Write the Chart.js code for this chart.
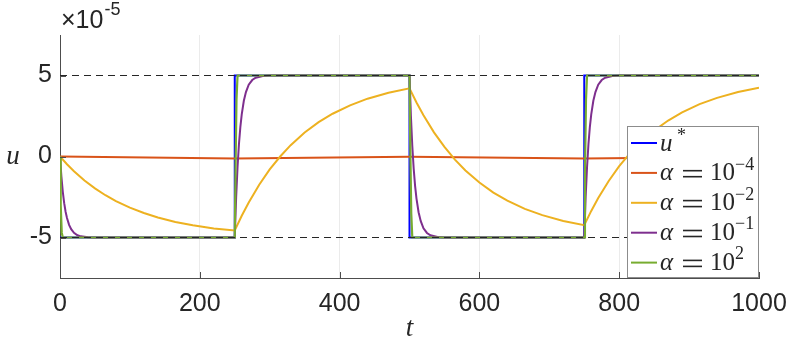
<!DOCTYPE html>
<html>
<head>
<meta charset="utf-8">
<script src="https://cdn.jsdelivr.net/npm/chart.js@4.4.1/dist/chart.umd.min.js"></script>
<style>
  html, body { margin: 0; padding: 0; background: #fff; }
  canvas { display: block; }
</style>
</head>
<body>
<canvas id="chart" width="789" height="345"></canvas>
<script>
// values in units of 1e-5
const xTicks = [0, 200, 400, 600, 800, 1000];
const yTicks = [-5, 0, 5];

const tStar = [0, 250, 250, 500, 500, 750, 750, 1000];
const uStar = [-5, -5, 5, 5, -5, -5, 5, 5];

const tA4 = [0, 250, 500, 750, 1000];
const uA4 = [0, -0.12, -0.01, -0.13, -0.02];

const tA2 = [0, 10, 20, 35, 50, 65, 80, 100, 120, 140, 165, 190, 220,
  250, 260, 270, 285, 300, 315, 330, 350, 370, 390, 415, 440, 470,
  500, 510, 520, 535, 550, 565, 580, 600, 620, 640, 665, 690, 720,
  750, 760, 770, 785, 800, 815, 830, 850, 870, 890, 915, 940, 970, 1000];
const uA2 = [0, -0.48, -0.91, -1.48, -1.97, -2.39, -2.75, -3.16, -3.49, -3.77, -4.04, -4.25, -4.45,
  -4.57, -3.66, -2.84, -1.74, -0.80, 0.00, 0.70, 1.48, 2.12, 2.64, 3.16, 3.57, 3.94,
  4.21, 3.33, 2.54, 1.49, 0.59, -0.19, -0.86, -1.61, -2.23, -2.73, -3.23, -3.62, -3.98,
  -4.24, -3.36, -2.56, -1.51, -0.60, 0.18, 0.85, 1.60, 2.22, 2.72, 3.23, 3.62, 3.98, 4.24];

const tA1 = [0, 2, 4, 6, 8, 10, 13, 16, 20, 25, 30, 40, 50,
  250, 252, 254, 256, 258, 260, 263, 266, 270, 275, 280, 290, 300,
  500, 502, 504, 506, 508, 510, 513, 516, 520, 525, 530, 540, 550,
  750, 752, 754, 756, 758, 760, 763, 766, 770, 775, 780, 790, 800, 1000];
const uA1 = [0, -1.24, -2.18, -2.88, -3.41, -3.80, -4.22, -4.49, -4.71, -4.86, -4.93, -4.98, -5,
  -5, -2.51, -0.65, 0.76, 1.81, 2.60, 3.44, 3.98, 4.43, 4.72, 4.86, 4.97, 5,
  5, 2.51, 0.65, -0.76, -1.81, -2.60, -3.44, -3.98, -4.43, -4.72, -4.86, -4.97, -5,
  -5, -2.51, -0.65, 0.76, 1.81, 2.60, 3.44, 3.98, 4.43, 4.72, 4.86, 4.97, 5, 5];

const tA100 = [0, 1, 2.5, 4, 250, 251, 252.5, 254, 500, 501, 502.5, 504, 750, 751, 752.5, 754, 1000];
const uA100 = [0, -3, -4.7, -5, -5, -1, 3.5, 5, 5, 1, -3.5, -5, -5, -1, 3.5, 5, 5];

const tRef = [0, 1000];
const uRefHi = [5, 5];
const uRefLo = [-5, -5];

const legendItalic = ['u', 'α', 'α', 'α', 'α'];
const legendBase = ['', '10', '10', '10', '10'];
const legendSup = ['*', '−4', '−2', '−1', '2'];
const legendColors = ['#0000ff', '#d95319', '#edb120', '#7e2f8e', '#77ac30'];

const pts = (xs, ys) => xs.map((x, i) => ({ x: x, y: ys[i] }));

function line(data, color, width, extra) {
  return Object.assign({
    data: data,
    borderColor: color,
    borderWidth: width,
    pointRadius: 0,
    fill: false,
    tension: 0
  }, extra || {});
}

const axisColor = '#4d4d4d';
const textColor = '#262626';

const extras = {
  id: 'extras',
  afterDraw(chart) {
    const { ctx, chartArea } = chart;
    const { left, right, top, bottom } = chartArea;
    const xs = chart.scales.x, ys = chart.scales.y;
    ctx.save();

    // inner tick marks
    ctx.strokeStyle = axisColor;
    ctx.lineWidth = 1;
    ctx.beginPath();
    xTicks.forEach(v => {
      const px = Math.round(xs.getPixelForValue(v)) + 0.5;
      ctx.moveTo(px, bottom);
      ctx.lineTo(px, bottom - 6);
    });
    yTicks.forEach(v => {
      const py = Math.round(ys.getPixelForValue(v)) + 0.5;
      ctx.moveTo(left, py);
      ctx.lineTo(left + 6, py);
    });
    ctx.stroke();

    // exponent label
    ctx.fillStyle = textColor;
    ctx.textBaseline = 'alphabetic';
    ctx.textAlign = 'left';
    ctx.font = '25px "Liberation Sans"';
    ctx.fillText('×10', left + 1, 28);
    const w = ctx.measureText('×10').width;
    ctx.font = '18px "Liberation Sans"';
    ctx.fillText('-5', left + 2 + w, 15);

    // axis titles
    ctx.font = 'italic 27px "Liberation Serif"';
    ctx.textAlign = 'center';
    ctx.textBaseline = 'middle';
    ctx.fillText('u', 13, (top + bottom) / 2);
    ctx.fillText('t', (left + right) / 2, 329);

    // legend
    const bw = 132, bh = 152;
    const bx = right - bw, by = bottom - bh;
    ctx.fillStyle = '#ffffff';
    ctx.fillRect(bx, by, bw, bh);
    ctx.strokeStyle = '#8c8c8c';
    ctx.lineWidth = 1;
    ctx.strokeRect(bx + 0.5, by + 0.5, bw - 1, bh - 1);
    ctx.textAlign = 'left';
    ctx.textBaseline = 'middle';
    legendItalic.forEach((it, i) => {
      const cy = by + 17 + i * 29.9;
      ctx.strokeStyle = legendColors[i];
      ctx.lineWidth = 2;
      ctx.beginPath();
      ctx.moveTo(bx + 4, cy);
      ctx.lineTo(bx + 30, cy);
      ctx.stroke();
      ctx.fillStyle = textColor;
      ctx.font = 'italic 25px "Liberation Serif"';
      ctx.fillText(it, bx + 33, cy + 1);
      if (legendBase[i]) {
        // equals sign, drawn as two bars like the LaTeX glyph
        ctx.fillRect(bx + 56, cy - 3, 19, 1.6);
        ctx.fillRect(bx + 56, cy + 3, 19, 1.6);
        ctx.font = '25px "Liberation Serif"';
        ctx.fillText(legendBase[i], bx + 83, cy + 1);
        ctx.font = '18px "Liberation Serif"';
        ctx.fillText(legendSup[i], bx + 108, cy - 8);
      } else {
        ctx.font = '18px "Liberation Serif"';
        ctx.fillText(legendSup[i], bx + 33 + ctx.measureText(it).width + 8, cy - 7);
      }
    });
    ctx.restore();
  }
};

new Chart(document.getElementById('chart'), {
  type: 'line',
  data: {
    datasets: [
      line(pts(tRef, uRefHi), '#262626', 1, { borderDash: [7, 5] }),
      line(pts(tRef, uRefLo), '#262626', 1, { borderDash: [7, 5] }),
      line(pts(tA100, uA100), '#77ac30', 2.2),
      line(pts(tA1, uA1), '#7e2f8e', 2),
      line(pts(tA2, uA2), '#edb120', 2),
      line(pts(tA4, uA4), '#d95319', 2),
      line(pts(tStar, uStar), '#0000ff', 2)
    ]
  },
  options: {
    responsive: false,
    animation: false,
    devicePixelRatio: 1,
    layout: { padding: { top: 35, right: 30, left: 0, bottom: 0 } },
    plugins: { legend: { display: false }, tooltip: { enabled: false } },
    scales: {
      x: {
        type: 'linear',
        min: 0,
        max: 1000,
        afterBuildTicks: s => { s.ticks = xTicks.map(v => ({ value: v })); },
        afterFit: s => { s.height = 67; s.paddingLeft = 0; s.paddingRight = 0; },
        grid: {
          color: c => (c.tick && (c.tick.value === 0 || c.tick.value === 1000)) ? 'rgba(0,0,0,0)' : '#ebebeb',
          drawTicks: false
        },
        border: { display: true, color: axisColor, width: 1 },
        ticks: {
          padding: 11,
          color: textColor,
          font: { family: 'Liberation Sans', size: 25 },
          maxRotation: 0,
          callback: v => String(v)
        }
      },
      y: {
        type: 'linear',
        min: -7.5,
        max: 7.5,
        afterBuildTicks: s => { s.ticks = yTicks.map(v => ({ value: v })); },
        afterFit: s => { s.width = 60; s.paddingTop = 0; s.paddingBottom = 0; },
        grid: { display: false, drawTicks: false },
        border: { display: true, color: axisColor, width: 1 },
        ticks: {
          padding: 8,
          color: textColor,
          font: { family: 'Liberation Sans', size: 25 },
          callback: v => String(v)
        }
      }
    }
  },
  plugins: [extras]
});
</script>
</body>
</html>
